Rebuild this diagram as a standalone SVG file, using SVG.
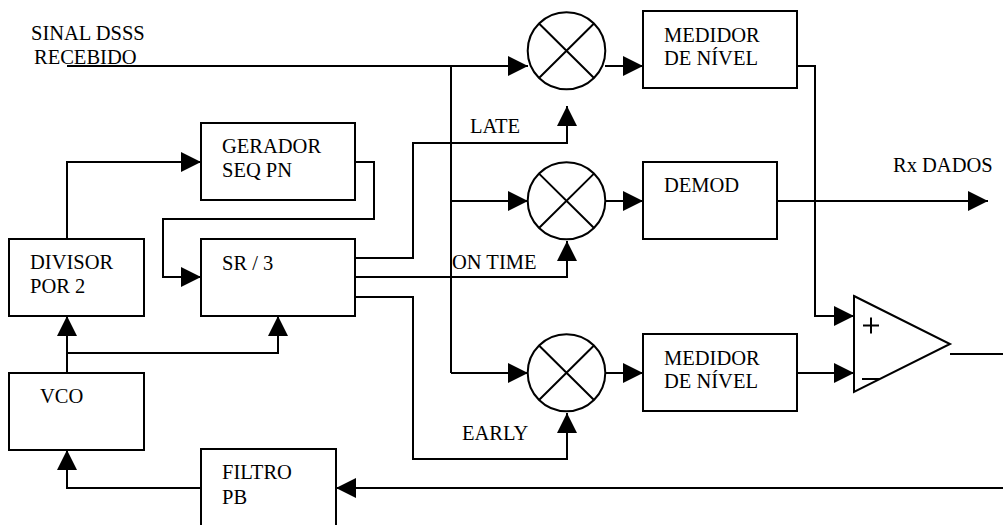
<svg xmlns="http://www.w3.org/2000/svg" width="1003" height="525" viewBox="0 0 1003 525">
<defs>
<marker id="ah" markerWidth="20" markerHeight="20" refX="20" refY="10" orient="auto" markerUnits="userSpaceOnUse">
<path d="M0,0 L20,10 L0,20 Z" fill="#000"/>
</marker>
<style>
.b{fill:#fff;stroke:#000;stroke-width:2}
.w{fill:none;stroke:#000;stroke-width:2}
.a{fill:none;stroke:#000;stroke-width:2;marker-end:url(#ah)}
text{font-family:"Liberation Serif","Times New Roman",serif;font-size:20.5px;fill:#000}
</style>
</defs>
<rect width="1003" height="525" fill="#fff"/>
<g id="connectors">
<path class="a" d="M67,66 H528"/>
<path class="w" d="M451,66 V373"/>
<path class="a" d="M451,201 H528"/>
<path class="a" d="M451,373 H528"/>
<path class="a" d="M605,66 H643"/>
<path class="a" d="M605,201 H643"/>
<path class="a" d="M605,373 H643"/>
<path class="a" d="M797,66 H815 V316 H854"/>
<path class="a" d="M797,373 H854"/>
<path class="a" d="M777,201 H988"/>
<path class="w" d="M950,354 H1003"/>
<path class="a" d="M1003,488 H336"/>
<path class="a" d="M201,488 H67 V450"/>
<path class="a" d="M67,373 V316"/>
<path class="a" d="M67,353 H278 V316"/>
<path class="a" d="M67,239 V162 H201"/>
<path class="a" d="M355,162 H374 V219 H163 V277 H201"/>
<path class="a" d="M355,258 H413 V143 H567 V106"/>
<path class="a" d="M355,277 H567 V241"/>
<path class="a" d="M355,297 H413 V459 H567 V413"/>
</g>
<g id="input-label"><text x="31" y="40">SINAL DSSS</text><text x="34" y="64">RECEBIDO</text></g>
<g id="late-label"><text x="470" y="133">LATE</text></g>
<g id="ontime-label"><text x="452" y="269">ON TIME</text></g>
<g id="early-label"><text x="462" y="440">EARLY</text></g>
<g id="rx-label"><text x="893" y="172">Rx DADOS</text></g>
<g id="mixer1"><ellipse class="b" cx="566.5" cy="50.7" rx="38.8" ry="38.5"/><path class="w" d="M539,23.5 L594,78 M594,23.5 L539,78"/></g>
<g id="mixer2"><ellipse class="b" cx="566.5" cy="200.8" rx="38.8" ry="38.5"/><path class="w" d="M539,173.6 L594,228 M594,173.6 L539,228"/></g>
<g id="mixer3"><ellipse class="b" cx="566.5" cy="372.7" rx="38.8" ry="38.5"/><path class="w" d="M539,345.5 L594,400 M594,345.5 L539,400"/></g>
<g id="medidor1"><rect class="b" x="643" y="11" width="154" height="77"/><text x="664" y="42">MEDIDOR</text><text x="664" y="65">DE NÍVEL</text></g>
<g id="demod"><rect class="b" x="643" y="162" width="134" height="77"/><text x="664" y="192">DEMOD</text></g>
<g id="medidor2"><rect class="b" x="643" y="334" width="154" height="77"/><text x="664" y="365">MEDIDOR</text><text x="664" y="388">DE NÍVEL</text></g>
<g id="comparator"><path class="b" d="M854,296 L950,344 L854,392 Z"/><path class="w" d="M871,317.5 V333.5 M863,325.5 H879 M862,379 H880"/></g>
<g id="gerador"><rect class="b" x="201" y="123" width="154" height="77"/><text x="222" y="153">GERADOR</text><text x="222" y="177">SEQ PN</text></g>
<g id="sr3"><rect class="b" x="201" y="239" width="154" height="77"/><text x="222" y="270">SR / 3</text></g>
<g id="divisor"><rect class="b" x="9" y="239" width="135" height="77"/><text x="30" y="269">DIVISOR</text><text x="30" y="293">POR 2</text></g>
<g id="vco"><rect class="b" x="9" y="373" width="135" height="77"/><text x="40" y="403">VCO</text></g>
<g id="filtro"><rect class="b" x="201" y="449" width="135" height="90"/><text x="222" y="479">FILTRO</text><text x="222" y="504">PB</text></g>
</svg>
